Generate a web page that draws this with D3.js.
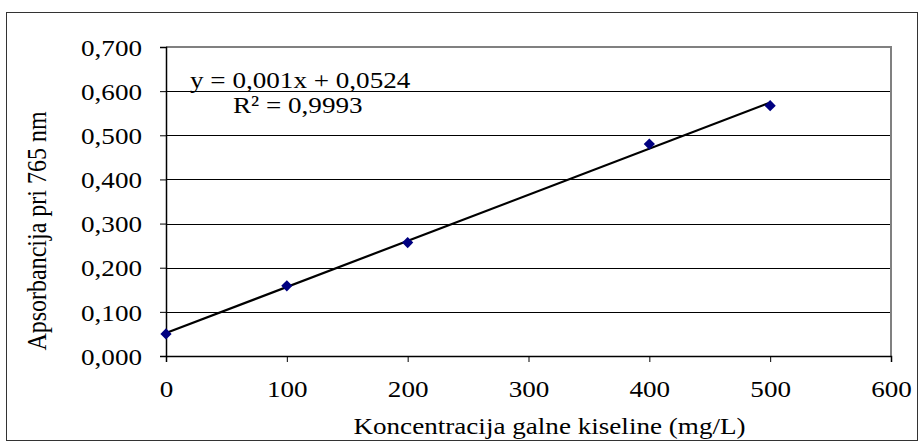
<!DOCTYPE html>
<html>
<head>
<meta charset="utf-8">
<script src="https://cdn.jsdelivr.net/npm/d3@7/dist/d3.min.js"></script>
<style>
  html, body { margin: 0; padding: 0; background: #fff; }
  svg { display: block; }
  text { font-family: "Liberation Serif", "Times New Roman", serif; fill: #000; }
</style>
</head>
<body>
<svg id="chart" width="921" height="448"></svg>
<script>
// ---- data ----
const concentrations = [0, 100, 200, 400, 500];
const absorbances = [0.050, 0.159, 0.257, 0.480, 0.567];
const xTicks = [0, 100, 200, 300, 400, 500, 600];
const yTicks = [0, 0.1, 0.2, 0.3, 0.4, 0.5, 0.6, 0.7];
const xTitle = "Koncentracija galne kiseline (mg/L)";
const yTitle = "Apsorbancija pri 765 nm";
const eqLine1 = "y = 0,001x + 0,0524";
const eqLine2 = "R² = 0,9993";

const svg = d3.select("#chart");
const plot = { left: 166, top: 47, right: 891, bottom: 356 };
const FS = 24;      // font size
const SX = 1.13;    // horizontal stretch of the original picture

const x = d3.scaleLinear().domain([0, 600]).range([plot.left, plot.right]);
const y = d3.scaleLinear().domain([0, 0.7]).range([plot.bottom, plot.top]);

// outer border
svg.append("rect")
  .attr("x", 6.5).attr("y", 12.5)
  .attr("width", 911).attr("height", 428)
  .attr("fill", "#fff").attr("stroke", "#333").attr("stroke-width", 1);

// gridlines
svg.append("g").selectAll("line")
  .data(yTicks.filter(d => d > 0 && d < 0.7))
  .join("line")
  .attr("x1", plot.left).attr("x2", plot.right)
  .attr("y1", d => Math.round(y(d)) + 0.5).attr("y2", d => Math.round(y(d)) + 0.5)
  .attr("stroke", "#000").attr("stroke-width", 1);

// plot area top/right border (gray)
svg.append("path")
  .attr("d", `M${plot.left},${plot.top} H${plot.right} V${plot.bottom}`)
  .attr("fill", "none").attr("stroke", "#808080").attr("stroke-width", 2);

const fmtY = v => d3.format(".3f")(v).replace(".", ",");

// y axis
const yAxis = svg.append("g")
  .attr("transform", `translate(${plot.left},0)`)
  .call(d3.axisLeft(y).tickValues(yTicks).tickFormat(fmtY).tickSize(6));
yAxis.select(".domain").attr("stroke", "#000").attr("stroke-width", 1.5);
yAxis.selectAll(".tick line").attr("stroke", "#000");
yAxis.selectAll(".tick text")
  .attr("x", null).attr("dy", "0.34em")
  .attr("transform", `translate(-24,0) scale(${SX},1)`)
  .style("font-family", "'Liberation Serif', serif").style("font-size", FS + "px").attr("fill", "#000");

// x axis
const xAxis = svg.append("g")
  .attr("transform", `translate(0,${plot.bottom})`)
  .call(d3.axisBottom(x).tickValues(xTicks).tickFormat(d3.format("d")).tickSize(6));
xAxis.select(".domain").attr("stroke", "#000").attr("stroke-width", 1.5);
xAxis.selectAll(".tick line").attr("stroke", "#000");
xAxis.selectAll(".tick text")
  .attr("y", null).attr("dy", null)
  .attr("transform", `translate(0,41) scale(${SX},1)`)
  .style("font-family", "'Liberation Serif', serif").style("font-size", FS + "px").attr("fill", "#000");

// trendline (least squares fit of the data)
const n = concentrations.length;
const mx = d3.mean(concentrations), my = d3.mean(absorbances);
let sxy = 0, sxx = 0;
for (let i = 0; i < n; i++) {
  sxy += (concentrations[i] - mx) * (absorbances[i] - my);
  sxx += (concentrations[i] - mx) ** 2;
}
const slope = sxy / sxx, intercept = my - slope * mx;
const xExt = d3.extent(concentrations);
svg.append("line")
  .attr("x1", x(xExt[0])).attr("y1", y(intercept + slope * xExt[0]))
  .attr("x2", x(xExt[1])).attr("y2", y(intercept + slope * xExt[1]))
  .attr("stroke", "#000").attr("stroke-width", 2.2);

// markers
const pts = concentrations.map((c, i) => ({ c, a: absorbances[i] }));
svg.append("g").selectAll("path")
  .data(pts).join("path")
  .attr("d", d3.symbol(d3.symbolDiamond2, 80)())
  .attr("transform", d => `translate(${x(d.c)},${y(d.a)})`)
  .attr("fill", "#000080");

// equation
svg.append("text").attr("transform", `translate(190,88) scale(${SX},1)`)
  .style("font-size", FS + "px").text(eqLine1);
svg.append("text").attr("transform", `translate(233,113) scale(${SX},1)`)
  .style("font-size", FS + "px").text(eqLine2);

// axis titles
svg.append("text")
  .attr("transform", `translate(${(plot.left + plot.right) / 2 + 21},434) scale(${SX},1)`)
  .attr("text-anchor", "middle").style("font-size", FS + "px").text(xTitle);
svg.append("text")
  .attr("transform", `translate(46,231) scale(${SX},1) rotate(-90)`)
  .attr("text-anchor", "middle").style("font-size", FS + "px").text(yTitle);
</script>
</body>
</html>
